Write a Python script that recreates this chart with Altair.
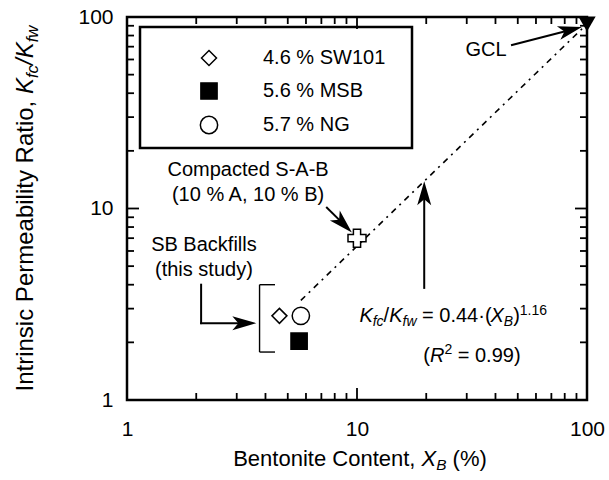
import math
import altair as alt
import pandas as pd

FONT = "Liberation Sans"
W, H = 460, 383

# ---- data -----------------------------------------------------------------
series_names = ["4.6 % SW101", "5.6 % MSB", "5.7 % NG"]
series_x = [4.6, 5.6, 5.7]
series_y = [2.75, 2.03, 2.75]
series_shapes = ["diamond", "square", "circle"]
series_fills = ["white", "black", "white"]
series_sizes = [225, 300, 215]

sab_x, sab_y = [10.0], [7.0]       # compacted sand-attapulgite-bentonite
gcl_x, gcl_y = [100.0], [92.0]     # geosynthetic clay liner

fit_coef, fit_exp = 0.44, 1.16
fit_x = [5.7, 100.0]
fit_y = [fit_coef * v ** fit_exp for v in fit_x]

major_ticks = [1, 10, 100]
minor_ticks = [2, 3, 4, 5, 6, 7, 8, 9, 20, 30, 40, 50, 60, 70, 80, 90]

xs = alt.Scale(type="log", domain=[1, 100], nice=False)
ys = alt.Scale(type="log", domain=[1, 100], nice=False)

# one axis definition per direction, shared by every layer so they merge cleanly
ax_x = alt.Axis(values=major_ticks, format="d", title=None, ticks=False, domain=False,
                grid=False, labelFont=FONT, labelFontSize=21, labelColor="black",
                labelPadding=18, labelFlush=False, labelOverlap=False)
ax_y = alt.Axis(values=major_ticks, format="d", title=None, ticks=False, domain=False,
                grid=False, labelFont=FONT, labelFontSize=21, labelColor="black",
                labelPadding=14, labelOverlap=False)


def X(f):
    return alt.X(f, scale=xs, axis=ax_x)


def Y(f):
    return alt.Y(f, scale=ys, axis=ax_y)


# pixel helpers (plot-area coordinates) used for arrow geometry
def px(v):
    return W * math.log10(v) / 2


def py(v):
    return H - H * math.log10(v) / 2


def inv_x(p):
    return 10 ** (2 * p / W)


def inv_y(p):
    return 10 ** (2 * (H - p) / H)


# ---- text width table (Arial / Liberation Sans metrics, 1/1000 em) -------
WIDTHS = {" ": 278, "(": 333, ")": 333, ",": 278, ".": 278, "/": 278, "%": 889,
          "=": 584, "\u00b7": 278, "-": 333,
          "A": 667, "B": 667, "C": 722, "I": 278, "K": 667, "P": 667, "R": 722,
          "X": 667, "a": 556, "b": 556, "c": 500, "e": 556, "f": 278, "i": 222,
          "l": 222, "m": 833, "n": 556, "o": 556, "r": 333, "s": 500, "t": 278,
          "w": 722, "y": 500}


def text_width(s, size):
    return sum(WIDTHS.get(ch, 556) for ch in s) / 1000.0 * size


def rich_text(pieces, pos, size, angle=0):
    """Centered run of pieces: (text, italic, level) with level 0/-1(sub)/1(sup)."""
    sizes = [size if lv == 0 else size * 0.7 for _, _, lv in pieces]
    widths = [text_width(t, s) for (t, _, _), s in zip(pieces, sizes)]
    off = -sum(widths) / 2
    out = []
    for (t, it, lv), s, w in zip(pieces, sizes, widths):
        lead = text_width(t[: len(t) - len(t.lstrip(" "))], s)
        dy = 0 if lv == 0 else (0.2 * size if lv < 0 else -0.38 * size)
        mk = dict(align="left", baseline="alphabetic", dx=off + lead, dy=dy, font=FONT,
                  fontSize=s, fontStyle="italic" if it else "normal", color="black")
        if angle:
            mk["angle"] = angle
        out.append(alt.Chart(pd.DataFrame({"t": [t.strip(" ")]})).mark_text(**mk)
                   .encode(text="t:N", **pos))
        off += w
    return out


def at(xv, yv):
    return dict(x=alt.XDatum(xv, scale=xs, axis=ax_x),
                y=alt.YDatum(yv, scale=ys, axis=ax_y))


layers = []

# ---- legend frame ------------------------------------------------------------
layers.append(
    alt.Chart(pd.DataFrame({"k": [0]}))
    .mark_rect(fill="white", stroke="black", strokeWidth=2.5)
    .encode(x=alt.value(13), x2=alt.value(285), y=alt.value(10), y2=alt.value(131))
)

# ---- inward ticks on all four sides ---------------------------------------
for vals, ln in ((major_ticks, 12), (minor_ticks, 7)):
    base = alt.Chart(pd.DataFrame({"v": vals})).mark_rule(color="black", strokeWidth=1.8)
    layers += [
        base.encode(y=Y("v:Q"), x=alt.value(0), x2=alt.value(ln)),
        base.encode(y=Y("v:Q"), x=alt.value(W - ln), x2=alt.value(W)),
        base.encode(x=X("v:Q"), y=alt.value(H - ln), y2=alt.value(H)),
        base.encode(x=X("v:Q"), y=alt.value(0), y2=alt.value(ln)),
    ]

# ---- regression line --------------------------------------------------------
layers.append(
    alt.Chart(pd.DataFrame({"x": fit_x, "y": fit_y}))
    .mark_line(color="black", strokeWidth=1.6, strokeDash=[6, 5, 2, 5])
    .encode(x=X("x:Q"), y=Y("y:Q"))
)

# ---- arrows -----------------------------------------------------------------
arrow_specs = [
    ((47.2, 71.4), (95.0, 88.7)),                          # GCL
    ((7.4, 10.1), (9.5, 7.5)),                             # compacted S-A-B
    ((2.1, 2.52), (3.65, 2.52)),                           # SB backfills
    ((19.6, 3.85), (19.6, fit_coef * 19.6 ** fit_exp)),    # equation
]
HEAD_NOTCH = 17
line_rows, head_rows = [], []
for (x0, y0), (x1, y1) in arrow_specs:
    dx, dy = px(x1) - px(x0), py(y1) - py(y0)
    L = math.hypot(dx, dy)
    ex, ey = px(x1) - dx / L * HEAD_NOTCH, py(y1) - dy / L * HEAD_NOTCH
    line_rows.append(dict(x=x0, y=y0, x2=inv_x(ex), y2=inv_y(ey)))
    head_rows.append(dict(x=x1, y=y1, a=math.degrees(math.atan2(dx, -dy)) % 360))

elbow = [dict(x=2.1, y=4.0, x2=2.1, y2=2.52)]
bracket = [dict(x=3.77, y=4.0, x2=3.77, y2=1.78),
           dict(x=3.77, y=4.0, x2=4.4, y2=4.0),
           dict(x=3.77, y=1.78, x2=4.4, y2=1.78)]


def segs(rows, width, cap="butt"):
    return (alt.Chart(pd.DataFrame(rows))
            .mark_rule(color="black", strokeWidth=width, strokeCap=cap)
            .encode(x=X("x:Q"), y=Y("y:Q"), x2="x2:Q", y2="y2:Q"))


layers += [segs(line_rows + elbow, 2, "square"), segs(bracket, 1.4)]

ARROW_HEAD = "M0,0 L0.7,2.4 L0,1.8 L-0.7,2.4 Z"
layers.append(
    alt.Chart(pd.DataFrame(head_rows))
    .mark_point(shape=ARROW_HEAD, filled=True, size=400, color="black", opacity=1)
    .encode(x=X("x:Q"), y=Y("y:Q"), angle=alt.Angle("a:Q", scale=None))
)

# ---- data points and legend -------------------------------------------------------
legend = alt.Legend(
    title=None, orient="none", legendX=13, legendY=15, direction="vertical",
    padding=16, rowPadding=10, symbolOffset=43, labelOffset=44,
    symbolStrokeWidth=1.5,
    labelFont=FONT, labelFontSize=20, labelColor="black", labelLimit=400,
)

df_series = pd.DataFrame({"s": series_names, "x": series_x, "y": series_y})
layers.append(
    alt.Chart(df_series)
    .mark_point(filled=True, opacity=1, strokeWidth=1.5, fillOpacity=1, strokeOpacity=1)
    .encode(
        x=X("x:Q"),
        y=Y("y:Q"),
        shape=alt.Shape("s:N", scale=alt.Scale(domain=series_names, range=series_shapes),
                        legend=legend),
        fill=alt.Fill("s:N", scale=alt.Scale(domain=series_names, range=series_fills),
                      legend=legend),
        stroke=alt.Stroke("s:N", scale=alt.Scale(domain=series_names,
                                                 range=["black", "black", "black"]),
                          legend=legend),
        size=alt.Size("s:N", scale=alt.Scale(domain=series_names, range=series_sizes),
                      legend=legend),
    )
)

layers.append(
    alt.Chart(pd.DataFrame({"x": sab_x, "y": sab_y}))
    .mark_point(shape="cross", size=324, fill="white", fillOpacity=1, stroke="black",
                strokeWidth=1.5, opacity=1)
    .encode(x=X("x:Q"), y=Y("y:Q"))
)
layers.append(
    alt.Chart(pd.DataFrame({"x": gcl_x, "y": gcl_y}))
    .mark_point(shape="triangle-down", size=300, filled=True, color="black", opacity=1)
    .encode(x=X("x:Q"), y=Y("y:Q"))
)

# ---- annotations --------------------------------------------------------------
labels = pd.DataFrame({
    "t": ["GCL", "Compacted S-A-B", "(10 % A, 10 % B)", "SB Backfills", "(this study)"],
    "x": [36.4, 3.36, 3.36, 2.16, 2.16],
    "y": [67.3, 15.9, 11.8, 6.45, 4.77],
})
layers.append(
    alt.Chart(labels)
    .mark_text(align="center", baseline="middle", font=FONT, fontSize=20, color="black")
    .encode(x=X("x:Q"), y=Y("y:Q"), text="t:N")
)

layers += rich_text(
    [("K", True, 0), ("fc", True, -1), ("/", False, 0), ("K", True, 0), ("fw", True, -1),
     (" = 0.44\u00b7(", False, 0), ("X", True, 0), ("B", True, -1), (")", False, 0),
     ("1.16", False, 1)],
    at(26.2, 2.55), 20)
layers += rich_text(
    [("(", False, 0), ("R", True, 0), ("2", False, 1), (" = 0.99)", False, 0)],
    at(31.6, 1.58), 20)

# axis titles
layers += rich_text(
    [("Bentonite Content, ", False, 0), ("X", True, 0), ("B", True, -1), (" (%)", False, 0)],
    dict(x=alt.value(W / 2 + 3), y=alt.value(H + 66)), 22)
layers += rich_text(
    [("Intrinsic Permeability Ratio, ", False, 0), ("K", True, 0), ("fc", True, -1),
     ("/", True, 0), ("K", True, 0), ("fw", True, -1)],
    dict(x=alt.value(-94), y=alt.value(H / 2)), 24, angle=270)

chart = (
    alt.layer(*layers)
    .properties(width=W, height=H,
                autosize=alt.AutoSizeParams(type="none"),
                padding={"left": 127, "top": 17, "right": 22, "bottom": 80},
                background="white")
    .configure_view(stroke="black", strokeWidth=2.5)
)

chart.save("out.html", embed_options={"renderer": "svg", "actions": False})
